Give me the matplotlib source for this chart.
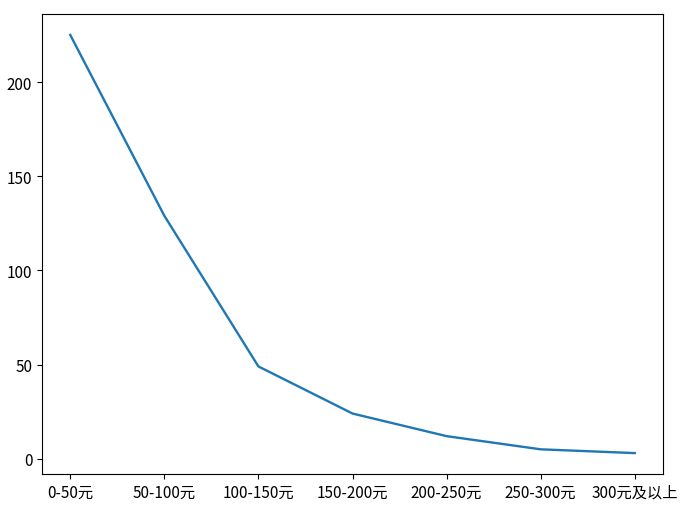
import matplotlib
matplotlib.use("Agg")
import matplotlib.pyplot as plt

plt.rcParams['font.family'] = ['Noto Sans CJK SC', 'DejaVu Sans']
plt.rcParams['axes.unicode_minus'] = False

categories = ['0-50元', '50-100元', '100-150元', '150-200元', '200-250元', '250-300元', '300元及以上']
counts = [225, 129, 49, 24, 12, 5, 3]

fig = plt.figure(figsize=(6.89, 5.06), dpi=100)
ax = fig.add_axes([42/689, 1-475/506, (663-42)/689, (475-15)/506])
ax.plot(categories, counts, color='#1f77b4', linewidth=1.7)
ax.tick_params(labelsize=11)
fig.savefig('out.png', dpi=100)
